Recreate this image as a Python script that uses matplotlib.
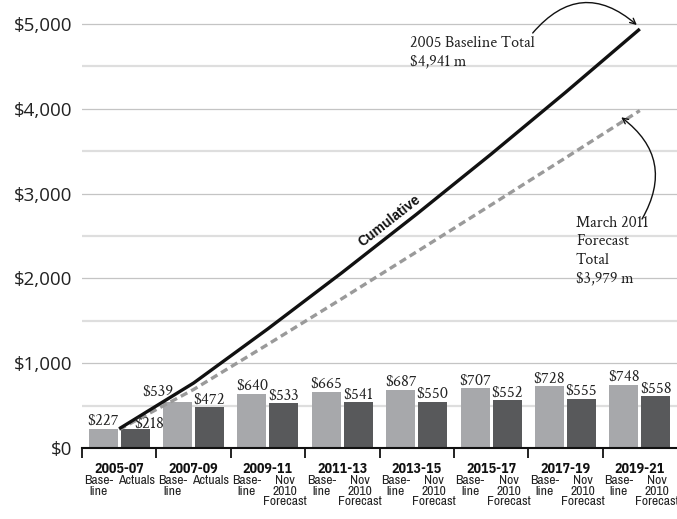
import matplotlib.pyplot as plt
import numpy as np

# data
periods = ['2005-07', '2007-09', '2009-11', '2011-13', '2013-15', '2015-17', '2017-19', '2019-21']
baseline = [227, 539, 640, 665, 687, 707, 728, 748]
forecast = [218, 472, 533, 541, 550, 552, 555, 558]
# the dark bars are drawn a little taller than their labels in the original
forecast_bar_heights = [220, 478, 528, 540, 548, 566, 580, 612]
left_labels = ['Base-\nline'] * 8
right_labels = ['Actuals', 'Actuals'] + ['Nov\n2010\nForecast'] * 6
y_ticks = [0, 1000, 2000, 3000, 4000, 5000]

baseline_total = 4941
forecast_total = 3979

light = '#a7a8ab'
dark = '#58595b'
serif = ['Crimson Text', 'Liberation Serif']
narrow = ['Archivo Narrow', 'DejaVu Sans']
narrow_bold = ['IBM Plex Sans Condensed', 'DejaVu Sans']
sans = ['Open Sans', 'DejaVu Sans']

fig = plt.figure(figsize=(6.77, 5.19), dpi=100)
# axes: x from 82px to 677px, y from 448px ($0) to the top edge
ax = fig.add_axes([82 / 677, (519 - 448) / 519, 595 / 677, 448 / 519])
ymax = 5000 * 448 / (448 - 24)
ax.set_ylim(0, ymax)
ax.set_xlim(-0.5, 7.5)

x = np.arange(len(periods))
w = 0.39
off = 0.215
ax.bar(x - off, baseline, w, color=light, zorder=2)
ax.bar(x + off, forecast_bar_heights, w, color=dark, zorder=2)

# cumulative lines
ax.plot(x, np.cumsum(baseline), color='#111111', lw=2.4, zorder=4, solid_capstyle='butt')
ax.plot(x, np.cumsum(forecast), color='#9a9a9a', lw=2.4, zorder=3,
        dashes=(2.2, 1.3))

# bar value labels
nudge_left = {1: (-20, 3)}
nudge_right = {0: (14, -2)}
for i in range(len(periods)):
    dx, dy = nudge_left.get(i, (0, 0))
    ax.annotate('$%d' % baseline[i], (x[i] - off, baseline[i]), xytext=(dx * 0.72, dy * 0.72),
                textcoords='offset points', ha='center', va='bottom',
                family=serif, fontsize=12, color='#222222', zorder=5)
    dx, dy = nudge_right.get(i, (0, 0))
    ax.annotate('$%d' % forecast[i], (x[i] + off, forecast_bar_heights[i]), xytext=(dx * 0.72, dy * 0.72),
                textcoords='offset points', ha='center', va='bottom',
                family=serif, fontsize=12, color='#222222', zorder=5)

# category labels under the axis
for i in range(len(periods)):
    ax.annotate(periods[i], (x[i], 0), xycoords=('data', 'axes fraction'),
                xytext=(0, -10), textcoords='offset points', ha='center', va='top',
                family=narrow_bold, fontsize=10, fontweight='bold', color='#111111')
    ax.annotate(left_labels[i], (x[i] - off, 0), xycoords=('data', 'axes fraction'),
                xytext=(-3.6, -19.5), textcoords='offset points', ha='center', va='top',
                family=narrow, fontsize=9.8, color='#222222', linespacing=0.95)
    ax.annotate(right_labels[i], (x[i] + off, 0), xycoords=('data', 'axes fraction'),
                xytext=(1, -19.5), textcoords='offset points', ha='center', va='top',
                family=narrow, fontsize=9.8, color='#222222', linespacing=0.95)

# axis styling
ax.set_yticks(y_ticks)
ax.set_yticklabels(['$0' if v == 0 else '${:,}'.format(v) for v in y_ticks],
                   family=sans, fontsize=13.5, color='#222222')
ax.set_yticks([500, 1500, 2500, 3500, 4500], minor=True)
ax.tick_params(axis='y', which='both', length=0, pad=7)
ax.grid(axis='y', which='major', color='#c4c4c4', lw=0.9, zorder=0)
ax.grid(axis='y', which='minor', color='#dedede', lw=1.6, zorder=0)
ax.set_xticks(np.arange(-0.5, 7.0, 1.0))
ax.set_xticklabels([])
ax.tick_params(axis='x', length=7, width=1.3, color='#111111', direction='out')
for s in ['top', 'right', 'left']:
    ax.spines[s].set_visible(False)
ax.spines['bottom'].set_color('#111111')
ax.spines['bottom'].set_linewidth(1.5)
ax.set_axisbelow(True)

# "Cumulative" along the line
ax.text(3.63, 2680, 'Cumulative', rotation=38, rotation_mode='anchor',
        ha='center', va='center', family='Liberation Sans', fontweight='bold',
        fontsize=10, color='#111111')

# totals with curved arrows
ax.text(3.91, 4860, '2005 Baseline Total\n$%s m' % format(baseline_total, ','),
        ha='left', va='top', family=serif, fontsize=11.5, color='#222222', linespacing=1.33)
ax.annotate('', xy=(6.96, 4988), xytext=(5.56, 4894),
            arrowprops=dict(arrowstyle='->', color='#111111', lw=1,
                            connectionstyle='arc3,rad=-0.5', shrinkA=0, shrinkB=0),
            annotation_clip=False)
ax.text(6.14, 2740, 'March 2011\nForecast\nTotal\n$%s m' % format(forecast_total, ','),
        ha='left', va='top', family=serif, fontsize=11.5, color='#222222', linespacing=1.33)
ax.annotate('', xy=(6.75, 3900), xytext=(7.03, 2700),
            arrowprops=dict(arrowstyle='->', color='#111111', lw=1,
                            connectionstyle='arc3,rad=0.44', shrinkA=0, shrinkB=0),
            annotation_clip=False)

plt.savefig('out.png', dpi=100)
